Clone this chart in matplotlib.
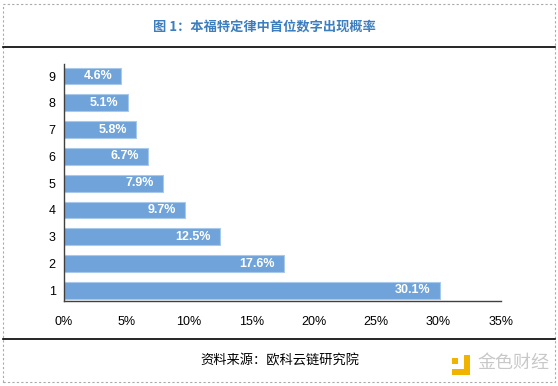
import matplotlib
matplotlib.use('Agg')
import matplotlib.pyplot as plt
from matplotlib.patches import Rectangle
from matplotlib.lines import Line2D

digits = ['1', '2', '3', '4', '5', '6', '7', '8', '9']
probs = [30.1, 17.6, 12.5, 9.7, 7.9, 6.7, 5.8, 5.1, 4.6]
xticks = [0, 5, 10, 15, 20, 25, 30, 35]

title = '图 1：本福特定律中首位数字出现概率'
source = '资料来源：欧科云链研究院'

plt.rcParams['font.family'] = ['Liberation Sans', 'Noto Sans CJK SC', 'DejaVu Sans']

fig = plt.figure(figsize=(5.58, 3.86), dpi=100)
W, H = 558.0, 386.0

# dashed frame + separators
fig.patches.append(Rectangle((3 / W, 4 / H), 552 / W, 378 / H, transform=fig.transFigure,
                             fill=False, edgecolor='#aaaaaa', linestyle=(0, (2, 2)), linewidth=0.8))
fig.lines.append(Line2D([3 / W, 555 / W], [1 - 47 / H] * 2, transform=fig.transFigure, color='black', linewidth=1.2))
fig.lines.append(Line2D([3 / W, 555 / W], [1 - 339 / H] * 2, transform=fig.transFigure, color='black', linewidth=1.2))

fig.text(264 / W, 1 - 27 / H, title, ha='center', va='center', fontsize=9.5, fontweight='bold',
         color='#3d7ebf', family=['Noto Sans CJK SC', 'DejaVu Sans'])
fig.text(280 / W, 1 - 361 / H, source, ha='center', va='center', fontsize=9.5, style='italic',
         color='black', family=['Noto Sans CJK SC', 'DejaVu Sans'])

# watermark
fig.patches.append(Rectangle((452 / W, 1 - 375 / H), 12 / W, 6 / H, transform=fig.transFigure,
                             facecolor='#f0b400', edgecolor='none'))
fig.patches.append(Rectangle((464 / W, 1 - 375 / H), 6 / W, 20 / H, transform=fig.transFigure,
                             facecolor='#f0b400', edgecolor='none'))
fig.patches.append(Rectangle((452 / W, 1 - 364 / H), 6 / W, 6 / H, transform=fig.transFigure,
                             facecolor='#f0b400', edgecolor='none'))
fig.text(513 / W, 1 - 363 / H, '金色财经', ha='center', va='center', fontsize=13,
         color='#c8c8c8', family=['Noto Sans CJK SC', 'DejaVu Sans'])

ax = fig.add_axes([64 / W, 1 - 301 / H, (501 - 64) / W, (301 - 64) / H])
ypos = list(range(1, len(digits) + 1))
bars = ax.barh(ypos, probs, height=0.63, color='#6fa3d9', edgecolor='#a9c9ea', linewidth=0.8)

for y, v in zip(ypos, probs):
    ax.annotate('%.1f%%' % v, xy=(v, y), xytext=(-6.5, 0), textcoords='offset points',
                ha='right', va='center', color='white', fontweight='bold', fontsize=9)

ax.set_xlim(0, 35)
ax.set_ylim(0.6, 9.45)
ax.set_yticks(ypos)
ax.set_yticklabels(digits)
ax.set_xticks(xticks)
ax.set_xticklabels(['%d%%' % t for t in xticks])
ax.tick_params(axis='both', length=0, labelsize=9, colors='black')
ax.tick_params(axis='y', pad=6)
ax.tick_params(axis='x', pad=11)
for s in ['top', 'right']:
    ax.spines[s].set_visible(False)
for s in ['left', 'bottom']:
    ax.spines[s].set_color('#404040')
    ax.spines[s].set_linewidth(1)

fig.savefig('out.png', dpi=100)
